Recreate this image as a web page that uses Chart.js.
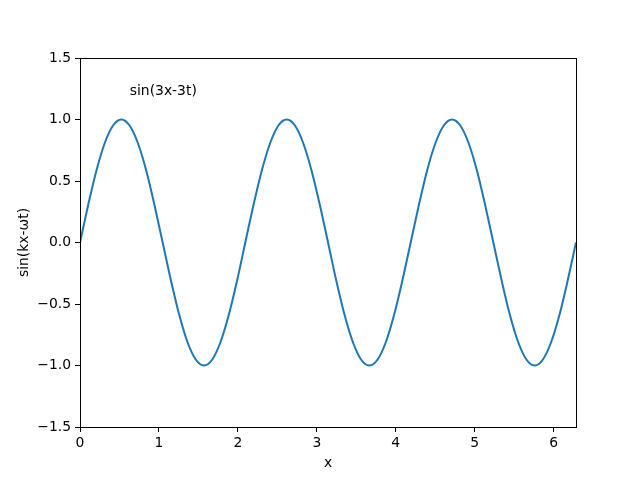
<!DOCTYPE html>
<html>
<head>
<meta charset="utf-8">
<script src="https://cdn.jsdelivr.net/npm/chart.js@4/dist/chart.umd.min.js"></script>
<style>
html,body{margin:0;padding:0;background:#fff;}
#wrap{width:640px;height:480px;}
</style>
</head>
<body>
<div id="wrap"><canvas id="c" width="640" height="480"></canvas></div>
<script>
const xValues = [0.000,0.105,0.209,0.314,0.419,0.524,0.628,0.733,0.838,0.942,
  1.047,1.152,1.257,1.361,1.466,1.571,1.676,1.780,1.885,1.990,
  2.094,2.199,2.304,2.409,2.513,2.618,2.723,2.827,2.932,3.037,
  3.142,3.246,3.351,3.456,3.560,3.665,3.770,3.875,3.979,4.084,
  4.189,4.294,4.398,4.503,4.608,4.712,4.817,4.922,5.027,5.131,
  5.236,5.341,5.445,5.550,5.655,5.760,5.864,5.969,6.074,6.178,6.283];
const yValues = [0.000,0.309,0.588,0.809,0.951,1.000,0.951,0.809,0.588,0.309,
  0.000,-0.309,-0.588,-0.809,-0.951,-1.000,-0.951,-0.809,-0.588,-0.309,
  0.000,0.309,0.588,0.809,0.951,1.000,0.951,0.809,0.588,0.309,
  0.000,-0.309,-0.588,-0.809,-0.951,-1.000,-0.951,-0.809,-0.588,-0.309,
  0.000,0.309,0.588,0.809,0.951,1.000,0.951,0.809,0.588,0.309,
  0.000,-0.309,-0.588,-0.809,-0.951,-1.000,-0.951,-0.809,-0.588,-0.309,0.000];
const xTicks = [0,1,2,3,4,5,6];
const yTicks = [-1.5,-1.0,-0.5,0.0,0.5,1.0,1.5];
const annotationText = "sin(3x-3t)";
const annotationPos = [0.63, 1.2];
const xLabel = "x";
const yLabel = "sin(kx-\u03c9t)";

const FONT = "'DejaVu Sans', sans-serif";
const FS = 13.9;
const points = xValues.map((x,i)=>({x:x, y:yValues[i]}));

const framePlugin = {
  id:'frame',
  afterDraw(chart){
    const {ctx, chartArea:a, scales} = chart;
    ctx.save();
    ctx.strokeStyle='#000'; ctx.lineWidth=1;
    ctx.strokeRect(Math.round(a.left)+0.5, Math.round(a.top)+0.5, Math.round(a.right-a.left), Math.round(a.bottom-a.top));
    ctx.fillStyle='#000';
    ctx.font = FS+"px "+FONT;
    ctx.textAlign='left'; ctx.textBaseline='alphabetic';
    ctx.fillText(annotationText, scales.x.getPixelForValue(annotationPos[0]), scales.y.getPixelForValue(annotationPos[1]));
    ctx.restore();
  }
};

new Chart(document.getElementById('c'), {
  type:'line',
  data:{datasets:[{data:points, borderColor:'#1f77b4', borderWidth:2, pointRadius:0, fill:false, cubicInterpolationMode:'monotone'}]},
  options:{
    responsive:false, animation:false,
    layout:{padding:{left:0, right:64, top:58, bottom:0}},
    plugins:{legend:{display:false}, tooltip:{enabled:false}},
    scales:{
      x:{type:'linear', min:0, max:6.283,
        afterBuildTicks(s){ s.ticks = xTicks.map(v=>({value:v})); },
        afterFit(s){ s.height = 53; },
        grid:{drawOnChartArea:false, tickLength:5, color:'#000'},
        border:{display:false},
        ticks:{color:'#000', font:{family:FONT, size:FS}, padding:3, maxRotation:0, callback:v=>String(v)},
        title:{display:true, text:xLabel, color:'#000', font:{family:FONT, size:FS}, padding:{top:0,bottom:8}}
      },
      y:{type:'linear', min:-1.5, max:1.5,
        afterBuildTicks(s){ s.ticks = yTicks.map(v=>({value:v})); },
        afterFit(s){ s.width = 80; },
        grid:{drawOnChartArea:false, tickLength:5, color:'#000'},
        border:{display:false},
        ticks:{color:'#000', font:{family:FONT, size:FS}, padding:4, callback:v=>{const s=Math.abs(v).toFixed(1); return v<0?'\u2212'+s:s;}},
        title:{display:true, text:yLabel, color:'#000', font:{family:FONT, size:FS}, padding:{top:16,bottom:0}}
      }
    }
  },
  plugins:[framePlugin]
});
</script>
</body>
</html>
